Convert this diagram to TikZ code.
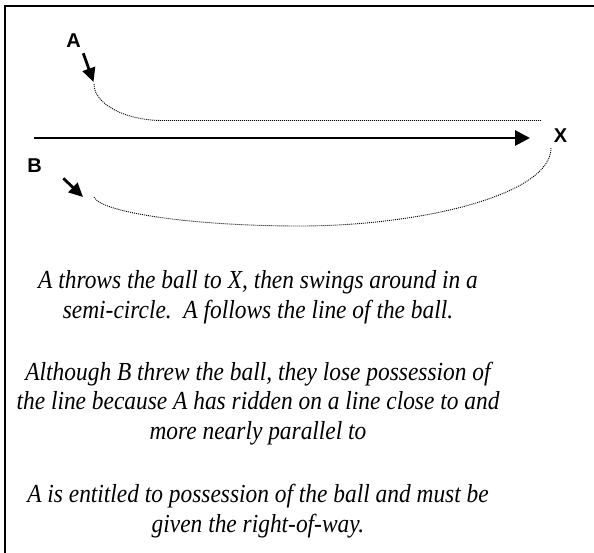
\documentclass[tikz,border=0pt]{standalone}
\usepackage{fontspec}
\setmainfont{Liberation Serif}
\newfontfamily\labfont{Liberation Sans}
\usetikzlibrary{arrows.meta}
\newcommand{\narrowtxt}[1]{\scalebox{0.9}[1]{#1}}
\begin{document}
\begin{tikzpicture}[x=1pt,y=-1pt,
  lab/.style={font=\labfont\bfseries\fontsize{20}{24}\selectfont, inner sep=0pt},
  txt/.style={font=\itshape\fontsize{26}{30}\selectfont, inner sep=0pt, anchor=base},
  dotpath/.style={line width=0.9pt, dash pattern=on 1pt off 1pt},
  bigarrow/.style={line width=2.8pt, -{Triangle[length=15pt,width=15pt]}},
  smallarrow/.style={line width=2.8pt, -{Triangle[length=14pt,width=13pt]}}]
\useasboundingbox (0,0) rectangle (594,552);
\draw[line width=2pt] (5,553) -- (5,6.3) -- (595,6.3);
% labels
\node[lab] (A) at (73.5,40.3) {A};
\node[lab] (B) at (34.5,166) {B};
\node[lab] (X) at (560.5,135.5) {X};
% coordinates
\coordinate (as) at (83.3,53.3);
\coordinate (at) at (93.5,82);
\coordinate (bs) at (63.3,178.3);
\coordinate (bt) at (83,197);
\coordinate (ms) at (34,138);
\coordinate (mt) at (530,138);
\coordinate (pa0) at (94,84);
\coordinate (pa1) at (163,120.5);
\coordinate (pa2) at (541,120.5);
\coordinate (pb0) at (94,197);
\coordinate (pb1) at (300,226);
\coordinate (pb2) at (551,148);
% arrows
\draw[bigarrow] (ms) -- (mt);
\draw[smallarrow] (as) -- (at);
\draw[smallarrow] (bs) -- (bt);
% dotted paths
\draw[dotpath] (pa0) .. controls (94,104) and (125,120.5) .. (pa1) -- (pa2);
\draw[dotpath] (pb0) .. controls (100,212) and (190,226) .. (pb1)
  .. controls (420,226) and (551,195) .. (pb2);
% text
\node[txt] (t1) at (258,288) {\narrowtxt{A throws the ball to X, then swings around in a}};
\node[txt] (t2) at (258,318) {\narrowtxt{semi-circle.\ \ A follows the line of the ball.}};
\node[txt] (t3) at (258,380) {\narrowtxt{Although B threw the ball, they lose possession of}};
\node[txt] (t4) at (258,409.5) {\narrowtxt{the line because A has ridden on a line close to and}};
\node[txt] (t5) at (258,439) {\narrowtxt{more nearly parallel to}};
\node[txt] (t6) at (258,502) {\narrowtxt{A is entitled to possession of the ball and must be}};
\node[txt] (t7) at (258,532) {\narrowtxt{given the right-of-way.}};
\end{tikzpicture}
\end{document}
